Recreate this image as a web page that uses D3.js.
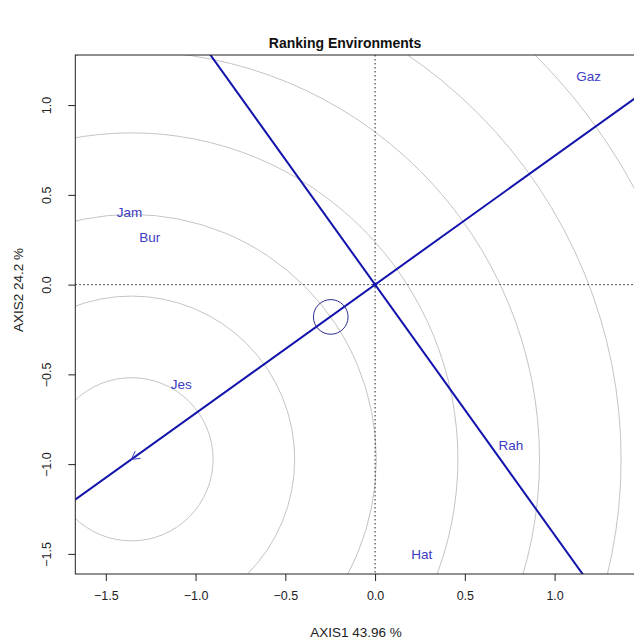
<!DOCTYPE html>
<html>
<head>
<meta charset="utf-8">
<script src="https://cdn.jsdelivr.net/npm/d3@7"></script>
<style>
  html, body { margin: 0; padding: 0; background: #ffffff; }
  svg { display: block; font-family: "Liberation Sans", Arial, sans-serif; }
</style>
</head>
<body>
<svg id="chart" width="634" height="639"></svg>
<script>
// ---- data ----
const envNames = ["Gaz", "Jam", "Bur", "Jes", "Rah", "Hat"];
const envX = [1.190, -1.368, -1.255, -1.080, 0.756, 0.260];
const envY = [1.158, 0.404, 0.263, -0.557, -0.895, -1.503];
const idealPoint = [-1.357, -0.973];     // centre of concentric circles (arrow tip)
const ringStep = 0.4546;                  // radius step of concentric circles
const ringCount = [1, 2, 3, 4, 5, 6, 7, 8];
const meanEnv = [-0.247, -0.180];         // small circle (average environment)
const meanEnvRadius = 0.0965;
const xTicks = [-1.5, -1.0, -0.5, 0.0, 0.5, 1.0];
const yTicks = [-1.5, -1.0, -0.5, 0.0, 0.5, 1.0];
const title = "Ranking Environments";
const xTitle = "AXIS1 43.96 %";
const yTitle = "AXIS2 24.2 %";

// ---- layout ----
const svg = d3.select("#chart");
const L = 75.3, R = 634.3, T = 55, B = 574;
const x = d3.scaleLinear().domain([-1.670, 1.444]).range([L, R]);
const y = d3.scaleLinear().domain([-1.612, 1.279]).range([B, T]);
const k = x(1) - x(0);

const lineBlue = "#1212ac";
const textBlue = "#3c3cc4";

svg.append("defs").append("clipPath").attr("id", "clip")
  .append("rect").attr("x", L).attr("y", T).attr("width", R - L).attr("height", B - T);

const plot = svg.append("g").attr("clip-path", "url(#clip)");

// concentric circles
plot.selectAll("circle.ring").data(ringCount).enter().append("circle")
  .attr("class", "ring")
  .attr("cx", x(idealPoint[0])).attr("cy", y(idealPoint[1]))
  .attr("r", d => d * ringStep * k)
  .attr("fill", "none").attr("stroke", "#c4c4c4").attr("stroke-width", 1);

// dotted axes through origin
plot.append("line").attr("x1", L).attr("x2", R).attr("y1", y(0)).attr("y2", y(0))
  .attr("stroke", "#222").attr("stroke-width", 1).attr("stroke-dasharray", "1.5,2.5");
plot.append("line").attr("y1", T).attr("y2", B).attr("x1", x(0)).attr("x2", x(0))
  .attr("stroke", "#222").attr("stroke-width", 1).attr("stroke-dasharray", "1.5,2.5");

// average environment axis (through origin and ideal point)
const slope = idealPoint[1] / idealPoint[0];
const ext = 5;
plot.append("line")
  .attr("x1", x(-ext)).attr("y1", y(-ext * slope))
  .attr("x2", x(ext)).attr("y2", y(ext * slope))
  .attr("stroke", lineBlue).attr("stroke-width", 2);
// perpendicular line
const pslope = -1 / slope;
plot.append("line")
  .attr("x1", x(-ext)).attr("y1", y(-ext * pslope))
  .attr("x2", x(ext)).attr("y2", y(ext * pslope))
  .attr("stroke", lineBlue).attr("stroke-width", 2);

// small circle at average environment
plot.append("circle")
  .attr("cx", x(meanEnv[0])).attr("cy", y(meanEnv[1]))
  .attr("r", meanEnvRadius * k)
  .attr("fill", "none").attr("stroke", "#2a2a90").attr("stroke-width", 1);

// origin dot
plot.append("circle").attr("cx", x(0)).attr("cy", y(0)).attr("r", 2.2).attr("fill", lineBlue);

// arrow head at ideal point
{
  const tx = x(idealPoint[0]), ty = y(idealPoint[1]);
  const dx = x(0) - tx, dy = y(0) - ty;
  const len = Math.hypot(dx, dy);
  const ux = dx / len, uy = dy / len;
  const a = Math.PI / 6, hl = 9;
  const w1 = [tx + hl * (ux * Math.cos(a) - uy * Math.sin(a)), ty + hl * (ux * Math.sin(a) + uy * Math.cos(a))];
  const w2 = [tx + hl * (ux * Math.cos(-a) - uy * Math.sin(-a)), ty + hl * (ux * Math.sin(-a) + uy * Math.cos(-a))];
  plot.append("path")
    .attr("d", `M${w1[0]},${w1[1]}L${tx},${ty}L${w2[0]},${w2[1]}`)
    .attr("fill", "none").attr("stroke", "#3a3ac0").attr("stroke-width", 1);
}

// environment labels
plot.selectAll("text.env").data(envNames).enter().append("text")
  .attr("class", "env")
  .attr("x", (d, i) => x(envX[i])).attr("y", (d, i) => y(envY[i]))
  .attr("text-anchor", "middle").attr("dominant-baseline", "central")
  .attr("font-size", 13.5).attr("fill", textBlue)
  .text(d => d);

// frame (box)
svg.append("rect").attr("x", L).attr("y", T).attr("width", R - L + 5).attr("height", B - T)
  .attr("fill", "none").attr("stroke", "#222").attr("stroke-width", 1);

// axes
const xAxis = d3.axisBottom(x).tickValues(xTicks).tickFormat(d3.format(".1f")).tickSize(7).tickPadding(10);
const gx = svg.append("g").attr("transform", `translate(0,${B})`).call(xAxis);
gx.select(".domain").remove();
gx.selectAll("line").attr("stroke", "#222");
gx.selectAll("text").attr("font-size", 12.5).attr("fill", "#222").attr("font-family", "Liberation Sans, Arial, sans-serif");

const yAxis = d3.axisLeft(y).tickValues(yTicks).tickFormat(d3.format(".1f")).tickSize(7).tickPadding(0);
const gy = svg.append("g").attr("transform", `translate(${L},0)`).call(yAxis);
gy.select(".domain").remove();
gy.selectAll("line").attr("stroke", "#222");
gy.selectAll("text")
  .attr("font-size", 12.5).attr("fill", "#222").attr("font-family", "Liberation Sans, Arial, sans-serif")
  .attr("x", 0).attr("dy", null)
  .attr("text-anchor", "middle")
  .attr("transform", "translate(-28,0) rotate(-90)")
  .attr("dominant-baseline", "central");

// titles
svg.append("text").attr("x", 345).attr("y", 48)
  .attr("text-anchor", "middle").attr("font-size", 14).attr("font-weight", "bold").attr("fill", "#111")
  .text(title);
svg.append("text").attr("x", 356).attr("y", 632)
  .attr("text-anchor", "middle").attr("dominant-baseline", "central").attr("font-size", 13.5).attr("fill", "#222")
  .text(xTitle);
svg.append("text").attr("transform", "translate(18,290) rotate(-90)")
  .attr("text-anchor", "middle").attr("dominant-baseline", "central").attr("font-size", 13.5).attr("fill", "#222")
  .text(yTitle);
</script>
</body>
</html>
